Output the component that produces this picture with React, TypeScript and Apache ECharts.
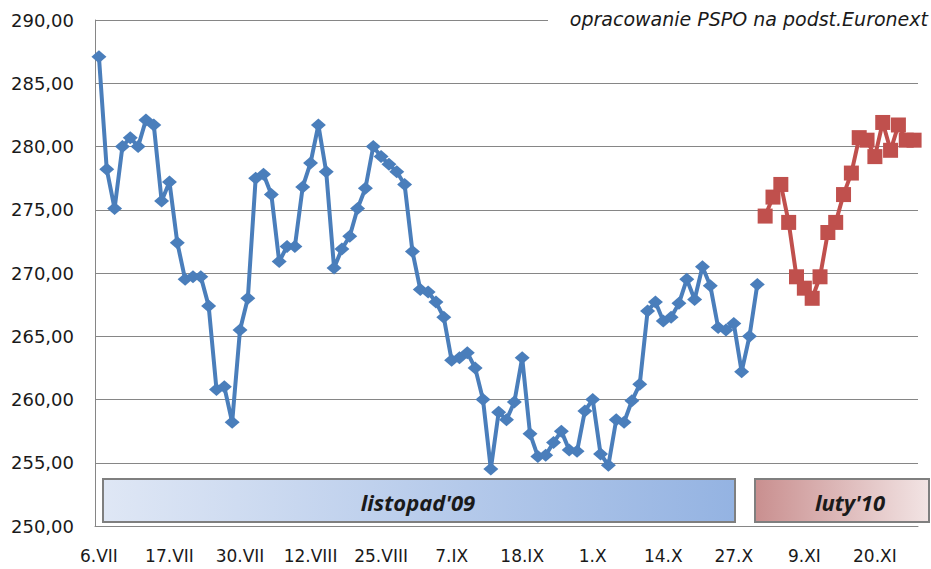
import React, { useEffect, useRef } from "react";
import * as echarts from "echarts";

// trading days (category axis)
const categories: string[] = [
  "6.VII", "7.VII", "8.VII", "9.VII", "10.VII", "13.VII", "14.VII", "15.VII", "16.VII", "17.VII",
  "20.VII", "21.VII", "22.VII", "23.VII", "24.VII", "27.VII", "28.VII", "29.VII", "30.VII", "31.VII",
  "3.VIII", "4.VIII", "5.VIII", "6.VIII", "7.VIII", "10.VIII", "11.VIII", "12.VIII", "13.VIII", "14.VIII",
  "17.VIII", "18.VIII", "19.VIII", "20.VIII", "21.VIII", "24.VIII", "25.VIII", "26.VIII", "27.VIII", "28.VIII", "31.VIII",
  "1.IX", "2.IX", "3.IX", "4.IX", "7.IX", "8.IX", "9.IX", "10.IX", "11.IX", "14.IX", "15.IX", "16.IX", "17.IX", "18.IX",
  "21.IX", "22.IX", "23.IX", "24.IX", "25.IX", "28.IX", "29.IX", "30.IX",
  "1.X", "2.X", "5.X", "6.X", "7.X", "8.X", "9.X", "12.X", "13.X", "14.X", "15.X", "16.X",
  "19.X", "20.X", "21.X", "22.X", "23.X", "26.X", "27.X", "28.X", "29.X", "30.X",
  "2.XI", "3.XI", "4.XI", "5.XI", "6.XI", "9.XI", "10.XI", "11.XI", "12.XI", "13.XI",
  "16.XI", "17.XI", "18.XI", "19.XI", "20.XI", "23.XI", "24.XI", "25.XI", "26.XI", "27.XI",
];

// contract "listopad'09" (6.VII - 30.X)
const listopad09: number[] = [
  287.1, 278.2, 275.1, 280.0, 280.7, 280.0, 282.1, 281.7, 275.7, 277.2,
  272.4, 269.5, 269.7, 269.7, 267.4, 260.8, 261.0, 258.2, 265.5, 268.0,
  277.5, 277.8, 276.2, 270.9, 272.1, 272.1, 276.8, 278.7, 281.7, 278.0,
  270.4, 271.9, 272.9, 275.1, 276.7, 280.0, 279.2, 278.6, 278.0, 277.0,
  271.7, 268.7, 268.5, 267.7, 266.5, 263.1, 263.3, 263.7, 262.5, 260.0,
  254.5, 259.0, 258.4, 259.8, 263.3, 257.3, 255.5, 255.6, 256.6, 257.5,
  256.0, 255.9, 259.1, 260.0, 255.7, 254.8, 258.4, 258.2, 259.9, 261.2,
  267.0, 267.7, 266.2, 266.5, 267.6, 269.5, 267.9, 270.5, 269.0, 265.7,
  265.5, 266.0, 262.2, 265.0, 269.1,
];

// contract "luty'10" (2.XI - 27.XI)
const luty10: number[] = [
  274.5, 276.0, 277.0, 274.0, 269.7, 268.8, 268.0, 269.7, 273.2, 274.0,
  276.2, 277.9, 280.7, 280.5, 279.2, 281.9, 279.7, 281.7, 280.5, 280.5,
];

const bandLabels = ["listopad'09", "luty'10"];
const sourceNote = "opracowanie PSPO na podst.Euronext";

export default function App() {
  const ref = useRef<HTMLDivElement>(null);

  useEffect(() => {
    if (!ref.current) return;
    const chart = echarts.init(ref.current, undefined, { renderer: "svg" });

    const blueData: (number | null)[] = categories.map((_, i) =>
      i < listopad09.length ? listopad09[i] : null
    );
    const redData: (number | null)[] = categories.map((_, i) =>
      i >= listopad09.length ? luty10[i - listopad09.length] ?? null : null
    );

    const fmt = (v: number) => v.toFixed(2).replace(".", ",");

    chart.setOption({
      animation: false,
      backgroundColor: "#ffffff",
      grid: { left: 95, top: 20, width: 823, height: 506, containLabel: false },
      xAxis: {
        type: "category",
        data: categories,
        boundaryGap: true,
        axisLine: { show: true, lineStyle: { color: "#868686", width: 1 } },
        axisTick: { show: false },
        axisLabel: {
          interval: 8,
          margin: 21,
          color: "#1a1a1a",
          fontFamily: "DejaVu Sans",
          fontSize: 17,
        },
        splitLine: { show: false },
      },
      yAxis: {
        type: "value",
        min: 250,
        max: 290,
        interval: 5,
        axisLine: { show: true, lineStyle: { color: "#868686", width: 1 } },
        axisTick: { show: false },
        axisLabel: {
          formatter: fmt,
          margin: 21,
          color: "#1a1a1a",
          fontFamily: "DejaVu Sans",
          fontSize: 18,
        },
        splitLine: { show: true, lineStyle: { color: "#868686", width: 1 } },
      },
      series: [
        {
          name: bandLabels[0],
          type: "line",
          data: blueData,
          connectNulls: false,
          showAllSymbol: true,
          symbol: "diamond",
          symbolSize: [15, 13],
          lineStyle: { color: "#4a7ebb", width: 4 },
          itemStyle: { color: "#4a7ebb" },
          z: 3,
        },
        {
          name: bandLabels[1],
          type: "line",
          data: redData,
          connectNulls: false,
          showAllSymbol: true,
          symbol: "rect",
          symbolSize: 15,
          lineStyle: { color: "#c0504d", width: 4 },
          itemStyle: { color: "#c0504d" },
          z: 3,
        },
      ],
      graphic: [
        {
          type: "rect",
          z: 10,
          shape: { x: 103, y: 479, width: 632, height: 43 },
          style: {
            fill: {
              type: "linear", x: 0, y: 0, x2: 1, y2: 0,
              colorStops: [
                { offset: 0, color: "#dfe7f5" },
                { offset: 1, color: "#94b3e2" },
              ],
            },
            stroke: "#7f7f7f",
            lineWidth: 2,
          },
        },
        {
          type: "text",
          z: 11,
          x: 418,
          y: 502,
          style: {
            text: bandLabels[0],
            textAlign: "center",
            textVerticalAlign: "middle",
            font: "italic bold 22px 'Open Sans'",
            fill: "#1a1a1a",
          },
        },
        {
          type: "rect",
          z: 10,
          shape: { x: 755, y: 479, width: 174, height: 43 },
          style: {
            fill: {
              type: "linear", x: 0, y: 0, x2: 1, y2: 0,
              colorStops: [
                { offset: 0, color: "#c98f8f" },
                { offset: 1, color: "#f2e4e4" },
              ],
            },
            stroke: "#7f7f7f",
            lineWidth: 2,
          },
        },
        {
          type: "text",
          z: 11,
          x: 850,
          y: 502,
          style: {
            text: bandLabels[1],
            textAlign: "center",
            textVerticalAlign: "middle",
            font: "italic bold 22px 'Open Sans'",
            fill: "#1a1a1a",
          },
        },
        {
          type: "rect",
          z: 10,
          shape: { x: 548, y: 4, width: 383, height: 30 },
          style: { fill: "#ffffff" },
        },
        {
          type: "text",
          z: 11,
          x: 928,
          y: 19,
          style: {
            text: sourceNote,
            textAlign: "right",
            textVerticalAlign: "middle",
            font: "italic 19px 'DejaVu Sans'",
            fill: "#1a1a1a",
          },
        },
      ],
    });

    return () => chart.dispose();
  }, []);

  return (
    <div
      ref={ref}
      style={{ position: "fixed", left: 0, top: 0, width: 931, height: 569, background: "#fff" }}
    />
  );
}
